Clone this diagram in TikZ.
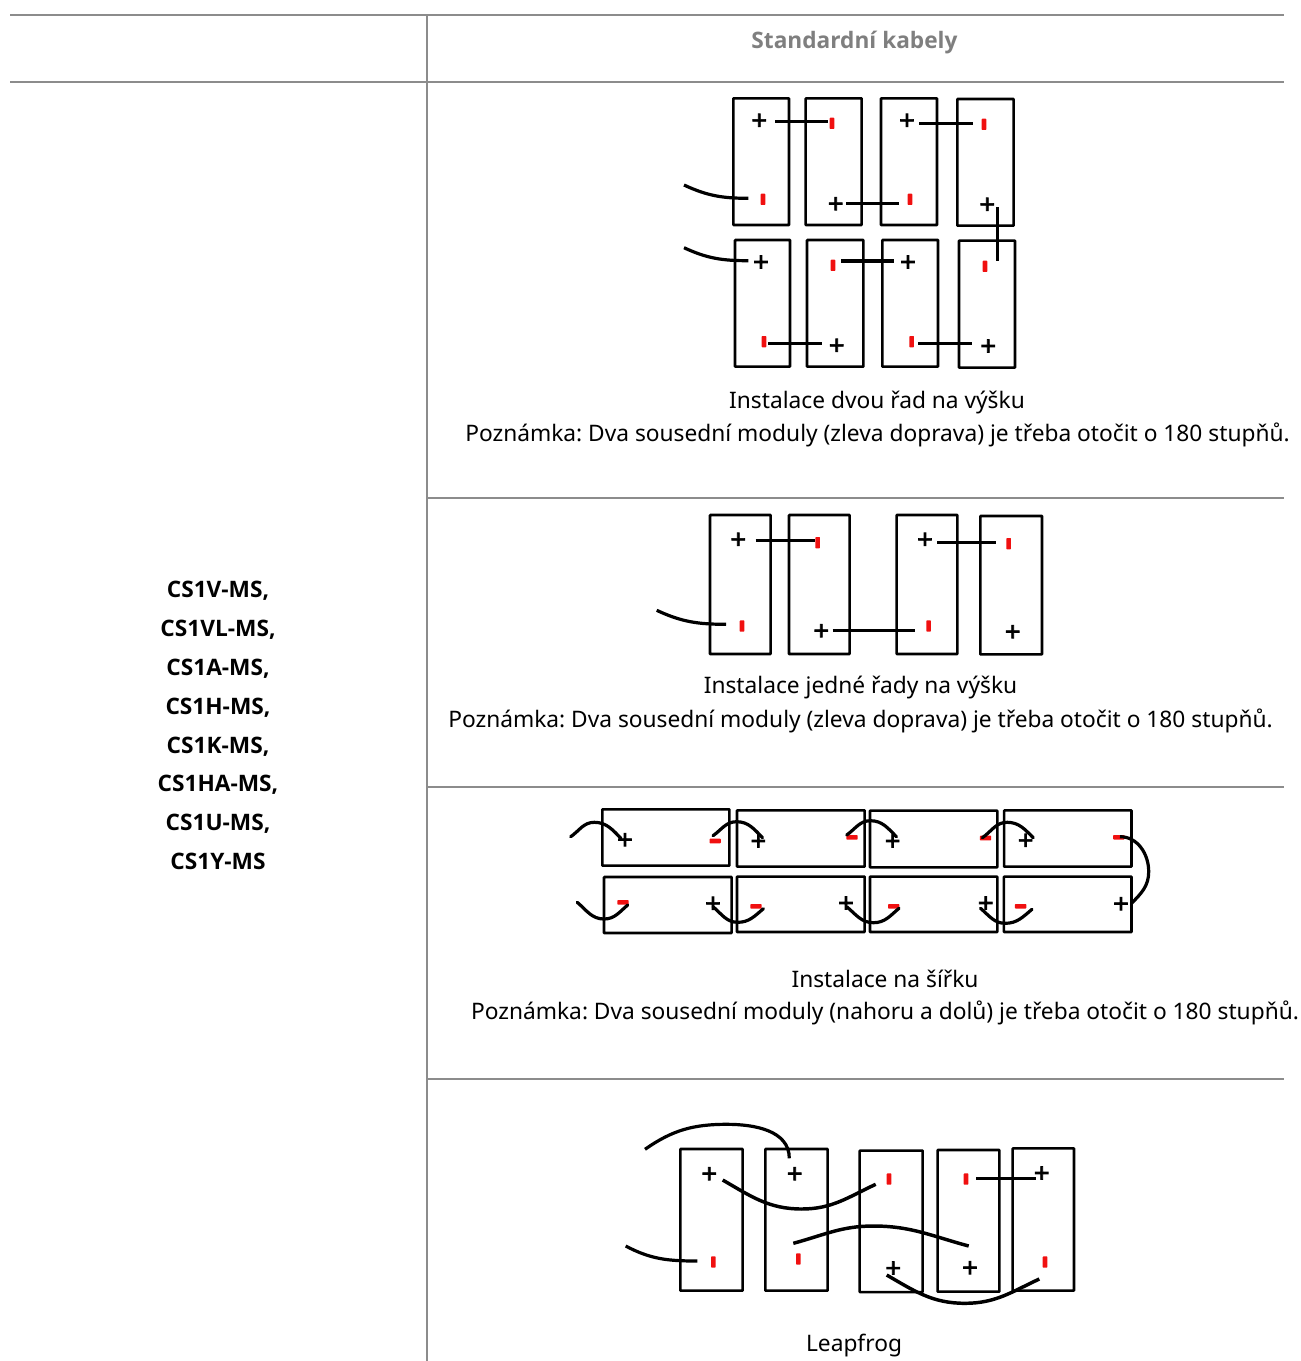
\documentclass[tikz,border=0pt]{standalone}
\usepackage{fontspec}
\setmainfont{Noto Sans}
\frenchspacing
\newfontfamily\plusfont{Liberation Sans}[FakeBold=2.6]
\newfontfamily\labfont{Open Sans}[UprightFont=* Bold]
\definecolor{rule}{HTML}{8C8C8C}
\definecolor{headgray}{HTML}{7F7F7F}
\definecolor{minusred}{HTML}{F01010}
\tikzset{
 panel/.style={draw=black,line width=1.9pt,inner sep=0pt,rounded corners=0.4pt},
 plusmark/.style={font=\plusfont\fontsize{20pt}{20pt}\selectfont,inner sep=0pt,text=black},
 minusv/.style={fill=minusred,inner sep=0pt,minimum width=3.4pt,minimum height=8.5pt,rounded corners=0.5pt},
 minush/.style={fill=minusred,inner sep=0pt,minimum width=8.5pt,minimum height=3.4pt,rounded corners=0.5pt},
 wire/.style={draw=black,line width=2.4pt},
 tablerule/.style={draw=rule,line width=0.85pt},
 captxt/.style={anchor=base,inner sep=0pt,font=\fontsize{17.05pt}{17.05pt}\selectfont,text=black},
 labtxt/.style={anchor=base,inner sep=0pt,font=\labfont\fontsize{17pt}{17pt}\selectfont,text=black},
}
\newcommand{\panelbox}[5]{\node[panel,minimum width={(#4-#2)*0.75pt},minimum height={(#5-#3)*0.75pt}] (#1) at ({(#2+#4)/2},{(#3+#5)/2}) {};}
\newcommand{\pl}[3]{\node[plusmark] (#1) at (#2,{#3+1.5}) {+};}
\newcommand{\mv}[3]{\node[minusv] (#1) at (#2,#3) {};}
\newcommand{\mh}[3]{\node[minush] (#1) at (#2,#3) {};}
\newcommand{\cp}[3]{\coordinate (#1) at (#2,#3);}
\begin{document}
\begin{tikzpicture}[x=0.75pt,y=-0.75pt]
\useasboundingbox (0,0) rectangle (1301,1361);
% table
\coordinate (tl) at (10,15); \coordinate (tr) at (1284,15);
\coordinate (hl) at (10,82); \coordinate (hr) at (1284,82);
\coordinate (vt) at (427,15); \coordinate (vb) at (427,1361);
\coordinate (r1l) at (427,498); \coordinate (r1r) at (1284,498);
\coordinate (r2l) at (427,787); \coordinate (r2r) at (1284,787);
\coordinate (r3l) at (427,1079); \coordinate (r3r) at (1284,1079);
\draw[tablerule] (tl)--(tr); \draw[tablerule] (hl)--(hr); \draw[tablerule] (vt)--(vb);
\draw[tablerule] (r1l)--(r1r); \draw[tablerule] (r2l)--(r2r); \draw[tablerule] (r3l)--(r3r);
\node[labtxt,text=headgray] (head) at (854.5,48) {Standardní kabely};
\node[labtxt] (l1) at (218,597) {CS1V-MS,};
\node[labtxt] (l2) at (218,636) {CS1VL-MS,};
\node[labtxt] (l3) at (218,675) {CS1A-MS,};
\node[labtxt] (l4) at (218,714) {CS1H-MS,};
\node[labtxt] (l5) at (218,753) {CS1K-MS,};
\node[labtxt] (l6) at (218,791) {CS1HA-MS,};
\node[labtxt] (l7) at (218,830) {CS1U-MS,};
\node[labtxt] (l8) at (218,869) {CS1Y-MS};
\node[captxt] (c1a) at (877,408) {Instalace dvou řad na výšku};
\node[captxt] (c1b) at (877.5,441) {Poznámka: Dva sousední moduly (zleva doprava) je třeba otočit o 180 stupňů.};
\node[captxt] (c2a) at (860.5,693) {Instalace jedné řady na výšku};
\node[captxt] (c2b) at (860.5,727) {Poznámka: Dva sousední moduly (zleva doprava) je třeba otočit o 180 stupňů.};
\node[captxt] (c3a) at (885,987) {Instalace na šířku};
\node[captxt] (c3b) at (885,1019) {Poznámka: Dva sousední moduly (nahoru a dolů) je třeba otočit o 180 stupňů.};
\node[captxt] (c4a) at (854,1351) {Leapfrog};
% diagram 1
\panelbox{a1}{733.3}{98.3}{789}{225}
\panelbox{a2}{805.7}{98.3}{861.7}{225}
\panelbox{a3}{881}{98.3}{937}{225}
\panelbox{a4}{957.3}{99}{1013.7}{225.7}
\panelbox{a5}{735}{240}{790}{366.7}
\panelbox{a6}{807}{240}{863.3}{366.7}
\panelbox{a7}{882.3}{240}{938}{366.7}
\panelbox{a8}{959}{240.7}{1015}{367.7}
\pl{ap1}{759.3}{120}\pl{ap2}{835.7}{203.3}\pl{ap3}{907}{120}\pl{ap4}{987.3}{204}
\pl{ap5}{761}{261.7}\pl{ap6}{836.7}{345}\pl{ap7}{908}{261.7}\pl{ap8}{988.3}{345.7}
\mv{am1}{832}{123.3}\mv{am2}{763}{199.3}\mv{am3}{910}{199.3}\mv{am4}{984}{124.3}
\mv{am5}{833}{265.3}\mv{am6}{985}{266.3}\mv{am7}{764}{341.7}\mv{am8}{911.7}{341.7}
\cp{aw1a}{775}{121.7}\cp{aw1b}{828}{121.7}\draw[wire] (aw1a)--(aw1b);
\cp{aw2a}{919.3}{123.3}\cp{aw2b}{972.7}{123.3}\draw[wire] (aw2a)--(aw2b);
\cp{aw3a}{846}{203.7}\cp{aw3b}{899.3}{203.7}\draw[wire] (aw3a)--(aw3b);
\cp{aw4a}{997.3}{207.3}\cp{aw4b}{997.3}{260.7}\draw[wire] (aw4a)--(aw4b);
\cp{aw5a}{841}{261}\cp{aw5b}{894.3}{261}\draw[wire] (aw5a)--(aw5b);
\cp{aw6a}{768.3}{343.3}\cp{aw6b}{821.7}{343.3}\draw[wire] (aw6a)--(aw6b);
\cp{aw7a}{918.3}{343.7}\cp{aw7b}{971.7}{343.7}\draw[wire] (aw7a)--(aw7b);
\cp{aw8a}{684}{185}\cp{aw8b}{748.3}{198.3}\draw[wire] (aw8a) to[out=-25,in=180] (aw8b);
\cp{aw9a}{684}{247.7}\cp{aw9b}{748.3}{260.7}\draw[wire] (aw9a) to[out=-25,in=180] (aw9b);
% diagram 2
\panelbox{b1}{710}{515}{770.7}{654}
\panelbox{b2}{789}{515}{849.7}{654}
\panelbox{b3}{896.7}{515}{957.3}{654}
\panelbox{b4}{980.3}{516}{1042}{654.3}
\pl{bp1}{738.3}{539}\pl{bp2}{821.3}{630.3}\pl{bp3}{925}{539}\pl{bp4}{1012.7}{631.3}
\mv{bm1}{817.7}{542.7}\mv{bm2}{742}{626}\mv{bm3}{928.7}{626}\mv{bm4}{1008.7}{543.7}
\cp{bw1a}{755.7}{540.3}\cp{bw1b}{815}{540.3}\draw[wire] (bw1a)--(bw1b);
\cp{bw2a}{937.3}{542.3}\cp{bw2b}{996}{542.3}\draw[wire] (bw2a)--(bw2b);
\cp{bw3a}{832.7}{630.7}\cp{bw3b}{915}{630.7}\draw[wire] (bw3a)--(bw3b);
\cp{bw4a}{656.7}{610.3}\cp{bw4b}{726}{624.3}\draw[wire] (bw4a) to[out=-25,in=180] (bw4b);
% diagram 3
\panelbox{d1}{602.4}{809.3}{729.3}{865.7}
\panelbox{d2}{737}{810.3}{864.7}{866.7}
\panelbox{d3}{870}{810.7}{997.3}{867.3}
\panelbox{d4}{1004.2}{810.3}{1131.5}{866.7}
\panelbox{d5}{604}{877}{731.6}{933}
\panelbox{d6}{737}{876.7}{864.7}{932}
\panelbox{d7}{870}{876.7}{997.3}{932}
\panelbox{d8}{1003.8}{876.7}{1131.5}{932}
\pl{dp1}{625}{839.3}\pl{dp2}{758.4}{840.7}\pl{dp3}{892.6}{840.7}\pl{dp4}{1025.6}{840}
\pl{dp5}{713}{903}\pl{dp6}{846}{902.7}\pl{dp7}{985.8}{902.7}\pl{dp8}{1121}{903.3}
\mh{dm1}{715.2}{841}\mh{dm2}{852}{837.3}\mh{dm3}{985.5}{838}\mh{dm4}{1118.9}{837.3}
\mh{dm5}{623}{902.3}\mh{dm6}{756}{906.3}\mh{dm7}{893.7}{906.3}\mh{dm8}{1020.6}{906.3}
\cp{t1a}{570.7}{836.7}\cp{t1m}{594.4}{822.3}\cp{t1b}{621}{838.3}
\draw[wire,line cap=round] (t1a) to[out=35,in=180] (t1m) to[out=0,in=135] (t1b);
\cp{t2a}{713}{835.7}\cp{t2m}{736.6}{821.7}\cp{t2b}{762.6}{837.7}
\draw[wire,line cap=round] (t2a) to[out=35,in=180] (t2m) to[out=0,in=135] (t2b);
\cp{t3a}{846.7}{835}\cp{t3m}{870.4}{820.7}\cp{t3b}{896.4}{836.7}
\draw[wire,line cap=round] (t3a) to[out=35,in=180] (t3m) to[out=0,in=135] (t3b);
\cp{t4a}{982.4}{837.7}\cp{t4m}{1007.2}{822.3}\cp{t4b}{1033.2}{837.7}
\draw[wire,line cap=round] (t4a) to[out=35,in=180] (t4m) to[out=0,in=135] (t4b);
\cp{t5a}{1120}{836.7}\cp{t5m}{1148.7}{871.7}\cp{t5b}{1131.5}{903.3}
\draw[wire] (t5a) to[out=0,in=90] (t5m) to[out=-90,in=45] (t5b);
\cp{u1a}{577.2}{902.3}\cp{u1m}{604}{919}\cp{u1b}{627.7}{905}
\draw[wire,line cap=round] (u1a) to[out=-40,in=180] (u1m) to[out=0,in=-140] (u1b);
\cp{u2a}{713}{906.7}\cp{u2m}{737.8}{922.3}\cp{u2b}{763.4}{908.7}
\draw[wire,line cap=round] (u2a) to[out=-40,in=180] (u2m) to[out=0,in=-140] (u2b);
\cp{u3a}{846.7}{906.7}\cp{u3m}{873.5}{922.7}\cp{u3b}{899}{908.3}
\draw[wire,line cap=round] (u3a) to[out=-40,in=180] (u3m) to[out=0,in=-140] (u3b);
\cp{u4a}{980.5}{908.3}\cp{u4m}{1005.3}{923.3}\cp{u4b}{1032}{909.3}
\draw[wire,line cap=round] (u4a) to[out=-40,in=180] (u4m) to[out=0,in=-140] (u4b);
% diagram 4
\panelbox{e1}{680.3}{1149}{742.7}{1290.7}
\panelbox{e2}{765.3}{1149}{827.7}{1290.7}
\panelbox{e3}{859.7}{1150.7}{922.7}{1292}
\panelbox{e4}{937.7}{1150}{999.3}{1291.7}
\panelbox{e5}{1012.7}{1148.3}{1074}{1290.7}
\pl{ep1}{709.3}{1173.3}\pl{ep2}{794.7}{1173.3}\pl{ep3}{893.3}{1267.7}\pl{ep4}{970}{1267.3}\pl{ep5}{1041.7}{1172.7}
\mv{em1}{889}{1179}\mv{em2}{966}{1179}\mv{em3}{713.3}{1262}\mv{em4}{798.3}{1259}\mv{em5}{1045}{1262}
\cp{ew1a}{976}{1178.3}\cp{ew1b}{1036}{1178.3}\draw[wire] (ew1a)--(ew1b);
\cp{ew2a}{625.7}{1246}\cp{ew2b}{697.3}{1261}\draw[wire] (ew2a) to[out=-28,in=180] (ew2b);
\cp{ew3a}{645}{1149.3}\cp{ew3m}{726.7}{1124.3}\cp{ew3b}{789.3}{1158.3}
\draw[wire] (ew3a) to[out=35,in=180] (ew3m) to[out=0,in=90] (ew3b);
\cp{ew4a}{722.7}{1180}\cp{ew4m}{801.7}{1209}\cp{ew4b}{875.7}{1184.3}
\draw[wire,line width=2.6pt] (ew4a) to[out=-30,in=180] (ew4m) to[out=0,in=-155] (ew4b);
\cp{ew5a}{793.3}{1243.3}\cp{ew5m}{873.3}{1226}\cp{ew5b}{968.7}{1246}
\draw[wire,line width=2.6pt] (ew5a) to[out=15,in=180] (ew5m) to[out=0,in=165] (ew5b);
\cp{ew6a}{886.7}{1275}\cp{ew6m}{965}{1303.3}\cp{ew6b}{1039.3}{1279}
\draw[wire,line width=2.6pt] (ew6a) to[out=-30,in=180] (ew6m) to[out=0,in=-155] (ew6b);
\end{tikzpicture}
\end{document}
